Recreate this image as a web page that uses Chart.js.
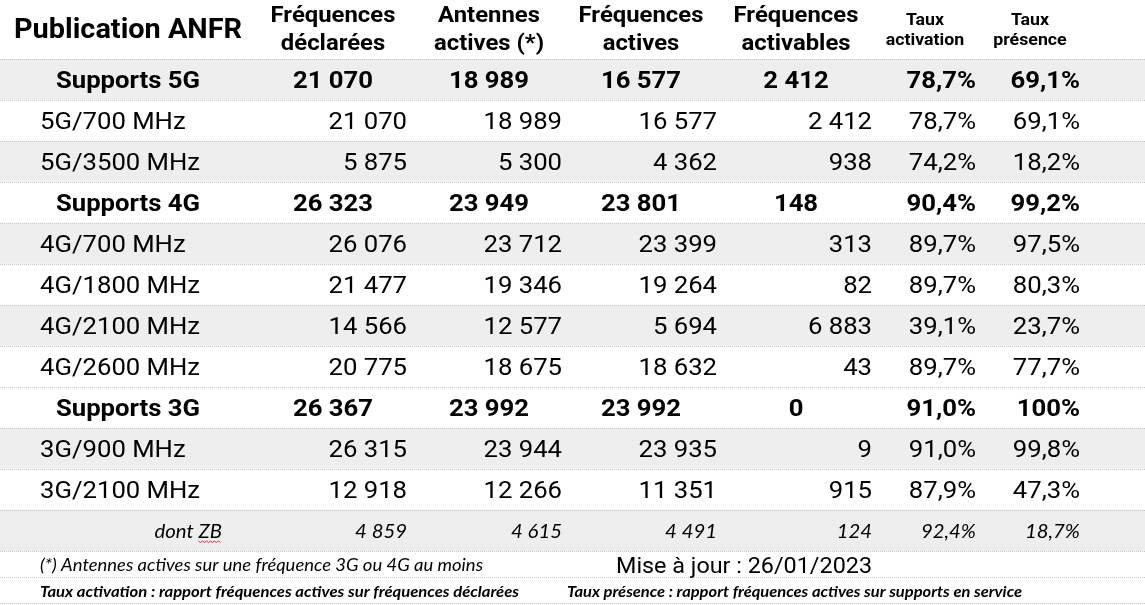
<!DOCTYPE html>
<html>
<head>
<meta charset="utf-8">
<script src="https://cdn.jsdelivr.net/npm/chart.js@4.4.1/dist/chart.umd.min.js"></script>
<style>
html,body{margin:0;padding:0;background:#ffffff;overflow:hidden}
#wrap{width:1145px;height:605px;position:relative}
</style>
</head>
<body>
<div id="wrap"><canvas id="c"></canvas></div>
<script>
// ---------- DATA ----------
const title = 'Publication ANFR';
const columnHeaders = [
  ['Fréquences', 'déclarées'],
  ['Antennes', 'actives (*)'],
  ['Fréquences', 'actives'],
  ['Fréquences', 'activables'],
  ['Taux', 'activation'],
  ['Taux', 'présence']
];
const rowLabels = ['Supports 5G', '5G/700 MHz', '5G/3500 MHz', 'Supports 4G', '4G/700 MHz', '4G/1800 MHz',
  '4G/2100 MHz', '4G/2600 MHz', 'Supports 3G', '3G/900 MHz', '3G/2100 MHz', 'dont ZB'];
const rowKinds = ['total', 'detail', 'detail', 'total', 'detail', 'detail',
  'detail', 'detail', 'total', 'detail', 'detail', 'sub'];
const rowShaded = [true, false, true, false, true, false, true, false, false, true, false, true];
const freqDeclarees   = [21070, 21070, 5875, 26323, 26076, 21477, 14566, 20775, 26367, 26315, 12918, 4859];
const antennesActives = [18989, 18989, 5300, 23949, 23712, 19346, 12577, 18675, 23992, 23944, 12266, 4615];
const freqActives     = [16577, 16577, 4362, 23801, 23399, 19264, 5694, 18632, 23992, 23935, 11351, 4491];
const freqActivables  = [2412, 2412, 938, 148, 313, 82, 6883, 43, 0, 9, 915, 124];
const tauxActivation  = [78.7, 78.7, 74.2, 90.4, 89.7, 89.7, 39.1, 89.7, 91.0, 91.0, 87.9, 92.4];
const tauxPresence    = [69.1, 69.1, 18.2, 99.2, 97.5, 80.3, 23.7, 77.7, 100, 99.8, 47.3, 18.7];
const footnote = '(*) Antennes actives sur une fréquence 3G ou 4G au moins';
const updateNote = 'Mise à jour : 26/01/2023';
const noteActivation = 'Taux activation : rapport fréquences actives sur fréquences déclarées';
const notePresence = 'Taux présence : rapport fréquences actives sur supports en service';

// ---------- LAYOUT / STYLE ----------
const TABLE_W = 1145;
const HEADER_H = 59;
const FOOT_H = 26;
const colCenter = [128, 333, 489, 641, 796, 925, 1030];
const colRight  = [222, 407, 562, 717, 872, 976, 1080];
const labelLeft = 40;
const SX = 1.07;               // horizontal text stretch of the original capture
const GRAY = '#eeeeee';
const GRID = '#c8c8c8';
const TXT = '#000000';

const columns = [freqDeclarees, antennesActives, freqActives, freqActivables, tauxActivation, tauxPresence];
const isPct = [false, false, false, false, true, true];

function fmtInt(n) { return String(n).replace(/\B(?=(\d{3})+(?!\d))/g, ' '); }
function fmtPct(v) { return v === 100 ? '100%' : v.toFixed(1).replace('.', ',') + '%'; }

function txt(ctx, s, x, y, font, align, maxW) {
  ctx.save();
  ctx.font = font;
  ctx.fillStyle = TXT;
  ctx.textAlign = align;
  ctx.textBaseline = 'alphabetic';
  ctx.translate(x, y);
  ctx.scale(SX, 1);
  if (maxW) ctx.fillText(s, 0, 0, maxW / SX); else ctx.fillText(s, 0, 0);
  ctx.restore();
}
function textW(ctx, s, font) {
  ctx.save(); ctx.font = font; const w = ctx.measureText(s).width * SX; ctx.restore(); return w;
}

const tablePlugin = {
  id: 'tableText',
  afterDraw(chart) {
    const ctx = chart.ctx;
    const xs = chart.scales.x, ys = chart.scales.y;
    const top = chart.chartArea.top, bottom = chart.chartArea.bottom;
    const X = v => xs.getPixelForValue(v);

    // header
    txt(ctx, title, X(14), top - 21, 'bold 27px Roboto', 'left');
    columnHeaders.forEach((h, j) => {
      const cx = X(colCenter[j + 1]);
      if (j < 4) {
        txt(ctx, h[0], cx, top - 37, 'bold 22.3px Roboto', 'center');
        txt(ctx, h[1], cx, top - 9, 'bold 22.3px Roboto', 'center');
      } else {
        txt(ctx, h[0], cx, top - 34, 'bold 16.6px Roboto', 'center');
        txt(ctx, h[1], cx, top - 14, 'bold 16.6px Roboto', 'center');
      }
    });

    // body rows
    rowLabels.forEach((lab, i) => {
      const cy = ys.getPixelForValue(i);
      const kind = rowKinds[i];
      if (kind === 'total') {
        const f = 'bold 24px Roboto', by = cy + 8.6;
        txt(ctx, lab, X(colCenter[0]), by, f, 'center');
        columns.forEach((arr, j) => {
          const s = isPct[j] ? fmtPct(arr[i]) : fmtInt(arr[i]);
          if (isPct[j]) txt(ctx, s, X(colRight[j + 1]), by, f, 'right');
          else txt(ctx, s, X(colCenter[j + 1]), by, f, 'center');
        });
      } else if (kind === 'detail') {
        const f = '24px Roboto', by = cy + 8.8;
        txt(ctx, lab, X(labelLeft), by, f, 'left');
        columns.forEach((arr, j) => {
          const s = isPct[j] ? fmtPct(arr[i]) : fmtInt(arr[i]);
          txt(ctx, s, X(colRight[j + 1]), by, f, 'right');
        });
      } else {
        const f = 'italic 19px Lato', by = cy + 7.5;
        const rx = X(colRight[0]);
        txt(ctx, lab, rx, by, f, 'right');
        // spell-check squiggle under the last word, as in the captured sheet
        const last = lab.split(' ').pop();
        const wl = textW(ctx, last, f);
        ctx.save();
        ctx.strokeStyle = '#e03030';
        ctx.lineWidth = 1;
        ctx.beginPath();
        const x0 = rx - wl, yb = by + 3;
        for (let k = 0, x = x0; x <= rx; k++, x += 2) {
          const yy = yb + (k % 2 ? 1.5 : 0);
          if (k === 0) ctx.moveTo(x, yy); else ctx.lineTo(x, yy);
        }
        ctx.stroke();
        ctx.restore();
        columns.forEach((arr, j) => {
          const s = isPct[j] ? fmtPct(arr[i]) : fmtInt(arr[i]);
          txt(ctx, s, X(colRight[j + 1]), by, f, 'right');
        });
      }
    });

    // footer rows & their dotted lines
    ctx.save();
    ctx.strokeStyle = GRID;
    ctx.lineWidth = 1;
    ctx.setLineDash([1, 1]);
    [bottom + FOOT_H, bottom + 2 * FOOT_H].forEach(y => {
      ctx.beginPath();
      ctx.moveTo(X(0), Math.round(y) + 0.5);
      ctx.lineTo(X(TABLE_W), Math.round(y) + 0.5);
      ctx.stroke();
    });
    ctx.restore();

    txt(ctx, footnote, X(labelLeft), bottom + 20, 'italic 17.3px Lato', 'left', 443);
    txt(ctx, updateNote, X(616), bottom + 21.5, '22px Roboto', 'left', 256);
    txt(ctx, noteActivation, X(labelLeft), bottom + 45.5, 'bold italic 15.6px Lato', 'left', 479);
    txt(ctx, notePresence, X(567), bottom + 45.5, 'bold italic 15.6px Lato', 'left', 455);
  }
};

new Chart(document.getElementById('c'), {
  type: 'bar',
  data: {
    labels: rowLabels,
    datasets: [{
      data: rowLabels.map(() => [0, TABLE_W]),
      backgroundColor: rowShaded.map(s => s ? GRAY : '#ffffff'),
      borderWidth: 0,
      barPercentage: 1,
      categoryPercentage: 1
    }]
  },
  options: {
    indexAxis: 'y',
    responsive: true,
    maintainAspectRatio: false,
    animation: false,
    events: [],
    layout: { padding: { top: HEADER_H, bottom: 2 * FOOT_H + 2, left: 0, right: 0 } },
    plugins: { legend: { display: false }, tooltip: { enabled: false } },
    scales: {
      x: { type: 'linear', min: 0, max: TABLE_W, display: false },
      y: {
        type: 'category',
        display: true,
        ticks: { display: false },
        grid: { color: GRID, lineWidth: 1, drawTicks: false, offset: true, z: 1 },
        border: { display: false, dash: [1, 1] },
        afterFit: s => { s.width = 0; }
      }
    }
  },
  plugins: [tablePlugin]
});
</script>
</body>
</html>
